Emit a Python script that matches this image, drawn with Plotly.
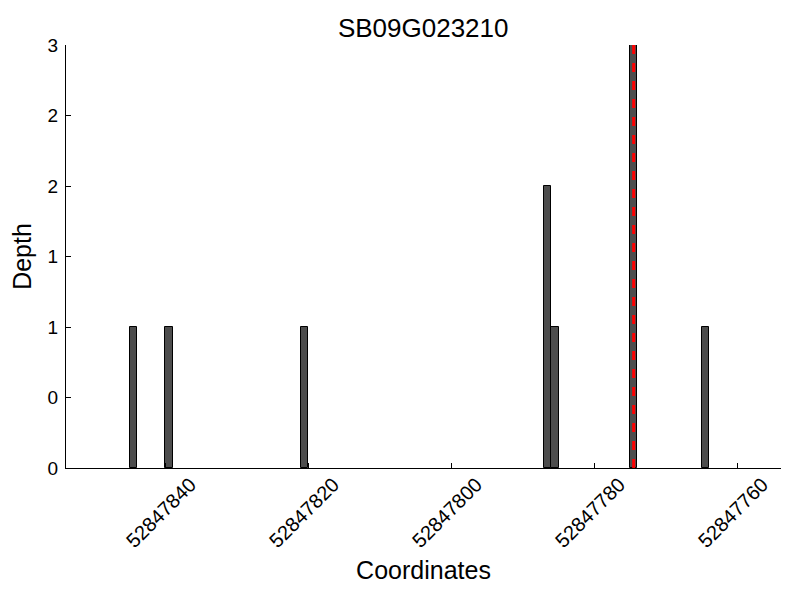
import plotly.graph_objects as go

# Data
positions = [52847844, 52847839, 52847820, 52847786, 52847785, 52847774, 52847764]
depths = [1, 1, 1, 2, 1, 3, 1]
snp_position = 52847774
x_tick_vals = [52847840, 52847820, 52847800, 52847780, 52847760]
x_tick_text = ["52847840", "52847820", "52847800", "52847780", "52847760"]
y_tick_vals = [0, 0.5, 1, 1.5, 2, 2.5, 3]
y_tick_text = ["0", "0", "1", "1", "2", "2", "3"]

FONT = "Liberation Sans, Arial, Helvetica, sans-serif"

fig = go.Figure()
fig.add_trace(go.Bar(
    x=positions, y=depths, width=1, offset=0,
    marker=dict(color="#4d4d4d", line=dict(color="black", width=1)),
    showlegend=False,
))
fig.add_trace(go.Scatter(
    x=[snp_position + 0.5, snp_position + 0.5], y=[0, max(depths)],
    mode="lines", line=dict(color="red", width=3, dash="dash"),
    showlegend=False,
))

fig.update_layout(
    width=800, height=600,
    margin=dict(l=58, r=27, t=37, b=140, autoexpand=False),
    paper_bgcolor="white", plot_bgcolor="white",
    font=dict(family=FONT, color="black"),
    title=dict(text="SB09G023210", x=0.519, xanchor="center", y=0.967, yanchor="middle",
               font=dict(size=26, family=FONT, color="black")),
    bargap=0,
    xaxis=dict(
        range=[52847853.9, 52847753.9],
        tickvals=x_tick_vals, ticktext=x_tick_text, tickangle=-45,
        ticks="inside", ticklen=5, tickcolor="black",
        showline=True, linecolor="black", linewidth=1,
        showgrid=False, zeroline=False,
        tickfont=dict(size=20, family=FONT),
        ticklabelshift=-25,
        ticklabelstandoff=-4,
        title=dict(text="Coordinates", font=dict(size=25, family=FONT), standoff=10),
    ),
    yaxis=dict(
        range=[0, 3],
        tickvals=y_tick_vals, ticktext=y_tick_text,
        ticks="inside", ticklen=5, tickcolor="black",
        showline=True, linecolor="black", linewidth=1,
        showgrid=False, zeroline=False,
        tickfont=dict(size=19, family=FONT),
        ticklabelstandoff=3,
        title=dict(text="Depth", font=dict(size=25, family=FONT), standoff=10),
    ),
)

fig.write_html("out.html")
